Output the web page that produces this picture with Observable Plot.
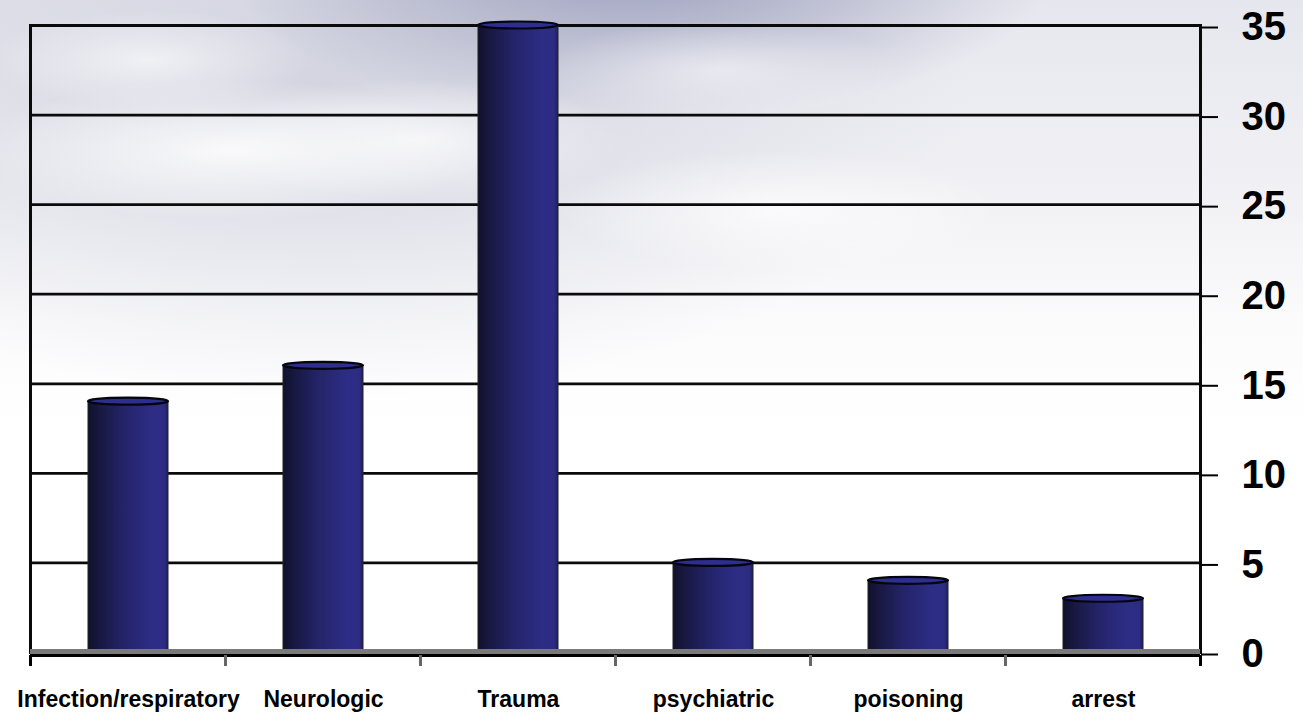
<!DOCTYPE html>
<html><head><meta charset="utf-8">
<script src="https://cdn.jsdelivr.net/npm/d3@7"></script>
<script src="https://cdn.jsdelivr.net/npm/@observablehq/plot@0.6"></script>
<style>
html,body{margin:0;padding:0;width:1303px;height:714px;overflow:hidden;}
body{
  background:
    radial-gradient(ellipse 260px 70px at 230px 150px, rgba(255,255,255,0.85), rgba(255,255,255,0)),
    radial-gradient(ellipse 200px 60px at 420px 140px, rgba(255,255,255,0.7), rgba(255,255,255,0)),
    radial-gradient(ellipse 180px 50px at 720px 70px, rgba(255,255,255,0.55), rgba(255,255,255,0)),
    radial-gradient(ellipse 220px 60px at 780px 210px, rgba(255,255,255,0.75), rgba(255,255,255,0)),
    radial-gradient(ellipse 160px 50px at 150px 60px, rgba(255,255,255,0.6), rgba(255,255,255,0)),
    radial-gradient(ellipse 420px 160px at 640px -40px, rgba(150,154,185,0.95), rgba(150,154,185,0)),
    radial-gradient(ellipse 650px 320px at 320px 80px, rgba(195,197,213,0.6), rgba(195,197,213,0)),
    linear-gradient(to bottom, #e6e7ee 0%, #f0f0f4 25%, #fbfbfc 45%, #ffffff 60%);
}
#chart svg{display:block;background:transparent;overflow:visible;}
</style></head><body><div id="chart"></div>
<script>
const categories = ["Infection/respiratory", "Neurologic", "Trauma", "psychiatric", "poisoning", "arrest"];
const values = [14, 16, 35, 5, 4, 3];
const yTicks = [0, 5, 10, 15, 20, 25, 30, 35];

const data = categories.map((c, i) => ({category: c, value: values[i]}));
const PAD = 0.59;

function bandInfo(x) {
  const bw = x.bandwidth ? x.bandwidth() : 80;
  const step = x.step ? x.step() : bw / (1 - PAD);
  return {bw, step};
}

// gradient definitions for the cylinder bodies
function defsMark() {
  const g = d3.create("svg:g");
  const defs = g.append("defs");
  const lg = defs.append("linearGradient").attr("id", "cylGrad")
    .attr("x1", "0").attr("x2", "1").attr("y1", "0").attr("y2", "0");
  [["0%", "#10102c"], ["12%", "#17173e"], ["45%", "#24246a"], ["80%", "#2d2d86"], ["95%", "#2c2c84"], ["100%", "#1f1f5c"]]
    .forEach(([o, c]) => lg.append("stop").attr("offset", o).attr("stop-color", c));
  return g.node();
}

// elliptical tops of the cylinders, positioned with Plot's scales
function capsMark(index, scales) {
  const x = scales.x, y = scales.y;
  const {bw} = bandInfo(x);
  const g = d3.create("svg:g");
  data.forEach(d => {
    const cx = x(d.category) + bw / 2;
    g.append("ellipse")
      .attr("cx", cx).attr("cy", y(d.value))
      .attr("rx", bw / 2).attr("ry", 3.5)
      .attr("fill", "#2e2e8e").attr("stroke", "#050510").attr("stroke-width", 2.2);
  });
  return g.node();
}

// category boundary ticks below the x axis
function boundaryTicks(index, scales) {
  const x = scales.x, y = scales.y;
  const {bw, step} = bandInfo(x);
  const g = d3.create("svg:g");
  const half = (step - bw) / 2;
  const pos = categories.map(c => x(c) - half);
  pos.push(x(categories[categories.length - 1]) + bw + half);
  const y0 = y(0);
  pos.forEach((px, i) => {
    const edge = i === 0 || i === pos.length - 1;
    g.append("line")
      .attr("x1", px).attr("x2", px)
      .attr("y1", y0 + 3).attr("y2", y0 + 14)
      .attr("stroke", edge ? "#000" : "#666")
      .attr("stroke-width", 3);
  });
  return g.node();
}

const chart = Plot.plot({
  width: 1303,
  height: 714,
  marginLeft: 30,
  marginRight: 103,
  marginTop: 25,
  marginBottom: 62,
  style: {background: "transparent", fontFamily: "'Liberation Sans', Arial, sans-serif", color: "#000"},
  x: {type: "band", domain: categories, paddingInner: PAD, paddingOuter: PAD / 2, axis: null, label: null},
  y: {domain: [0, 35], axis: null, label: null},
  marks: [
    defsMark,
    Plot.ruleY(yTicks.filter(t => t > 0), {stroke: "#0a0a0a", strokeWidth: 2.8}),
    Plot.frame({stroke: "#0a0a0a", strokeWidth: 3}),
    Plot.barY(data, {x: "category", y: "value", fill: "url(#cylGrad)", stroke: "#222", strokeWidth: 1}),
    capsMark,
    Plot.ruleY([0], {stroke: "#7a7a7a", strokeWidth: 5, dy: -1}),
    Plot.ruleY([0], {stroke: "#000", strokeWidth: 3, dy: 3}),
    boundaryTicks,
    Plot.axisY(yTicks, {
      anchor: "right", label: null, tickSize: 17, tickPadding: 24, stroke: "#000", strokeWidth: 2,
      fontSize: 40, fontWeight: "bold", textAnchor: "start", dy: 2, tickFormat: d => String(d)
    }),
    Plot.axisX({
      anchor: "bottom", label: null, tickSize: 0, tickPadding: 38,
      fontSize: 23, fontWeight: "bold", letterSpacing: "0.4px"
    })
  ]
});
document.getElementById("chart").appendChild(chart);
</script>
</body></html>
